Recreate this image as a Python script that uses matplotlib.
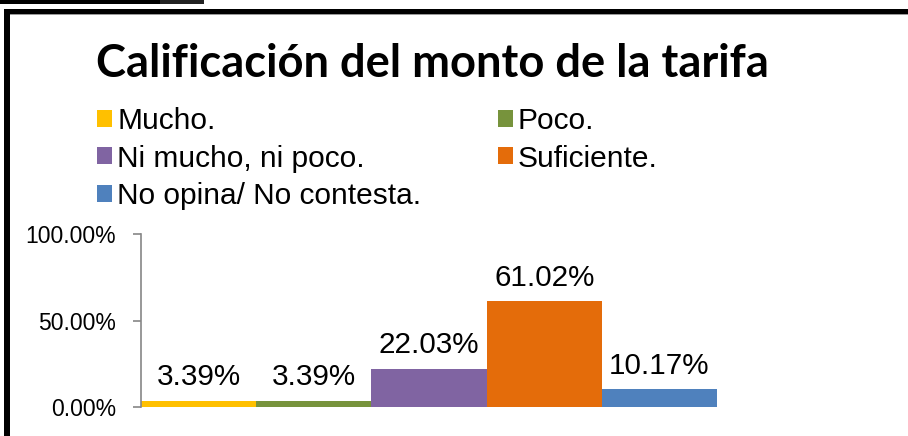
#!/usr/bin/env python3
"""Calificación del monto de la tarifa - bar chart with framed border."""
import matplotlib
matplotlib.use("Agg")
import matplotlib.pyplot as plt
from matplotlib.patches import Patch, Rectangle

categories = ["Mucho.", "Poco.", "Ni mucho, ni poco.", "Suficiente.", "No opina/ No contesta."]
shares = [0.0339, 0.0339, 0.2203, 0.6102, 0.1017]
colors = ["#FFC000", "#77933C", "#8064A2", "#E46C0A", "#4F81BD"]
yticks = [0.0, 0.5, 1.0]
ytick_labels = ["0.00%", "50.00%", "100.00%"]

W, H = 908, 436
fig = plt.figure(figsize=(W / 100, H / 100), dpi=100)
plt.rcParams["font.family"] = ["Liberation Sans", "DejaVu Sans"]


def px(x0, y0, x1, y1):
    # pixel box (top-left origin) -> figure fraction rect
    return [x0 / W, 1 - y1 / H, (x1 - x0) / W, (y1 - y0) / H]


# frame around the chart (top and left edges visible)
fig.add_artist(Rectangle((0, 1 - 4.5 / H), 160 / W, 4 / H, transform=fig.transFigure,
                         facecolor="black", edgecolor="none"))
fig.add_artist(Rectangle((160 / W, 1 - 4.5 / H), 44 / W, 4 / H, transform=fig.transFigure,
                         facecolor="#222222", edgecolor="none"))
fig.add_artist(Rectangle((4 / W, 1 - 14.5 / H), (W - 4) / W, 5.5 / H, transform=fig.transFigure,
                         facecolor="black", edgecolor="none"))
fig.add_artist(Rectangle((4 / W, 1 - 15.5 / H), (W - 4) / W, 1 / H, transform=fig.transFigure,
                         facecolor="#9a9a9a", edgecolor="none"))
fig.add_artist(Rectangle((4 / W, 0), 5.5 / W, 1 - 9 / H, transform=fig.transFigure,
                         facecolor="black", edgecolor="none"))

fig.text(432 / W, 1 - 77 / H, "Calificación del monto de la tarifa",
         ha="center", va="baseline", fontsize=32.6, fontweight="bold", family=["Lato", "DejaVu Sans"])

ax = fig.add_axes(px(141, 234, 717, 407))
x = range(len(categories))
bars = ax.bar(x, shares, width=1.0, color=colors, edgecolor="none")
ax.bar_label(bars, labels=[f"{v:.2%}" for v in shares], padding=7, fontsize=21.3)

ax.set_xlim(-0.5, len(categories) - 0.5)
ax.set_ylim(0, 1)
ax.set_yticks(yticks)
ax.set_yticklabels(ytick_labels, fontsize=16.5)
ax.set_xticks([])
for side in ["top", "right", "bottom"]:
    ax.spines[side].set_visible(False)
ax.spines["left"].set_color("#868686")
ax.spines["left"].set_linewidth(1.2)
ax.tick_params(axis="y", length=6, width=1.2, color="#868686", pad=12)

# legend: two columns filled column-first
order = [0, 2, 4, 1, 3]
handles = [Patch(facecolor=colors[i], edgecolor="none") for i in order]
labels = [categories[i] for i in order]
fig.legend(handles, labels, ncol=2, loc="upper left", bbox_to_anchor=(97 / W, 1 - 107 / H),
           frameon=False, fontsize=21.5, handlelength=0.5, handleheight=0.5,
           handletextpad=0.18, columnspacing=2.55, labelspacing=0.32, borderpad=0, borderaxespad=0)

fig.savefig("out.png", dpi=100)
